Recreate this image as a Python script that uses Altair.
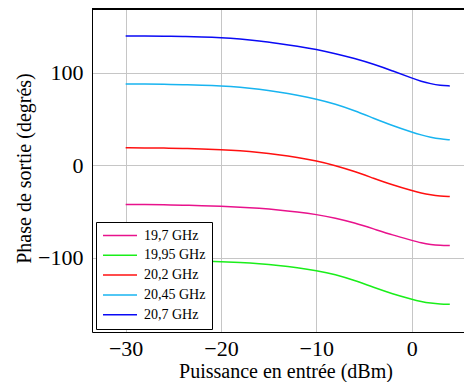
import altair as alt
import pandas as pd

x_vals = [-30, -28, -26, -24, -22, -20, -18, -16, -14, -12, -10, -8, -6, -4, -2, 0, 1, 2, 3, 4]

labels = ["19,7 GHz", "19,95 GHz", "20,2 GHz", "20,45 GHz", "20,7 GHz"]
colors = ["#e8128c", "#1aee1a", "#ff1010", "#18b4f0", "#0a0af5"]

y_197 = [-42.4, -42.5, -42.8, -43.2, -43.7, -44.3, -45.2, -46.5, -48.2, -50.5, -53.2, -57.0, -62.3, -68.8, -75.5, -81.2, -84.0, -85.8, -86.6, -86.8]
y_1995 = [-102.3, -102.4, -102.7, -103.1, -103.6, -104.3, -105.3, -106.6, -108.4, -110.8, -113.9, -118.0, -124.6, -132.2, -139.3, -145.0, -147.6, -149.3, -150.2, -150.5]
y_202 = [19.0, 18.9, 18.7, 18.3, 17.8, 17.0, 15.8, 14.0, 11.6, 8.6, 4.8, -0.2, -6.6, -14.0, -21.2, -27.3, -30.1, -32.1, -33.3, -33.8]
y_2045 = [88.0, 88.0, 87.7, 87.3, 86.8, 86.0, 84.6, 82.4, 79.4, 75.9, 71.8, 66.4, 59.3, 51.0, 43.0, 36.0, 32.9, 30.4, 28.5, 27.7]
y_207 = [140.0, 140.0, 139.8, 139.5, 139.0, 138.2, 136.8, 134.8, 132.0, 129.0, 125.5, 121.0, 115.8, 109.6, 102.3, 94.5, 91.0, 88.3, 86.6, 86.0]

series = [y_197, y_1995, y_202, y_2045, y_207]
rows = []
for lab, ys in zip(labels, series):
    for xv, yv in zip(x_vals, ys):
        rows.append({"x": xv, "y": yv, "f": lab})
df = pd.DataFrame(rows)

FONT = "Liberation Serif"
W, H = 372, 323

axis_style = dict(grid=True, ticks=False, domain=True,
                  labelFont=FONT, labelFontSize=22, labelColor="black",
                  titleFont=FONT, titleFontSize=20, titleFontWeight="normal",
                  titleColor="black", gridColor="#c6c6c6", gridWidth=1,
                  domainColor="black", domainWidth=1)

lines = alt.Chart(df).mark_line(strokeWidth=1.5, interpolate="basis", clip=True).encode(
    x=alt.X("x:Q",
            scale=alt.Scale(domain=[-33.53, 5.49], nice=False, zero=False),
            axis=alt.Axis(values=[-30, -20, -10, 0], title="Puissance en entrée (dBm)",
                          labelPadding=6, titleX=193.5, titleY=45, titleAlign="center",
                          titleBaseline="alphabetic", **axis_style)),
    y=alt.Y("y:Q",
            scale=alt.Scale(domain=[-180.5, 169.3], nice=False, zero=False),
            axis=alt.Axis(values=[-100, 0, 100], title="Phase de sortie (degrés)",
                          labelPadding=9, titleX=-68, titleY=159, titleAlign="center",
                          titleBaseline="middle", titleAngle=270, **axis_style)),
    color=alt.Color("f:N", sort=labels,
                    scale=alt.Scale(domain=labels, range=colors),
                    legend=alt.Legend(title=None, orient="none", legendX=4, legendY=213,
                                      symbolType="stroke", symbolSize=1156,
                                      symbolStrokeWidth=1.5, clipHeight=15,
                                      rowPadding=4.8, padding=6, labelOffset=6,
                                      strokeColor="black", fillColor="white",
                                      labelFont=FONT, labelFontSize=14,
                                      labelColor="black")),
)

top_frame = alt.Chart(df).mark_rule(color="black", strokeWidth=1).encode(
    x=alt.value(0), x2=alt.value(W), y=alt.value(0)
)

chart = alt.layer(lines, top_frame).properties(
    width=W, height=H,
    autosize=alt.AutoSizeParams(type="none"),
    padding={"left": 84, "top": 1, "right": 0, "bottom": 50},
).configure_view(
    stroke=None
)

chart.save("out.html", embed_options={"renderer": "svg", "actions": False})
